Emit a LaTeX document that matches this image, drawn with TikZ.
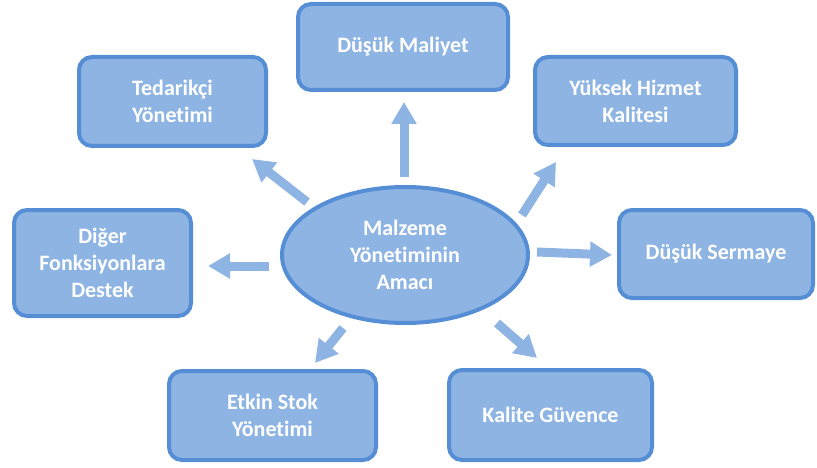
\documentclass[tikz,border=0pt]{standalone}
\usepackage{fontspec}
\setmainfont{Carlito}[Ligatures={NoCommon}]
\usetikzlibrary{arrows.meta,shapes.geometric}
\definecolor{boxfill}{HTML}{8EB4E3}
\definecolor{boxline}{HTML}{558ED5}
\begin{document}
\begin{tikzpicture}[x=1pt,y=-1pt,
  box/.style={draw=boxline, fill=boxfill, line width=4pt, rounded corners=13pt,
    text=white, font=\fontsize{22}{27}\selectfont\bfseries, align=center, inner sep=0pt},
  blockarrow/.style={draw=boxfill, line width=9pt, -{Triangle[width=24pt,length=22pt]}}
]
\useasboundingbox (0,0) rectangle (817,468);
% center ellipse
\node[box, ellipse, rounded corners=0pt, minimum width=246pt, minimum height=136pt] (ell) at (405,255) {Malzeme\\Yönetiminin\\Amacı};
% boxes
\node[box, minimum width=187pt, minimum height=89pt] (ted) at (172.5,101.5) {Tedarikçi\\Yönetimi};
\node[box, minimum width=210pt, minimum height=86pt] (dm) at (403,47) {Düşük Maliyet};
\node[box, minimum width=201pt, minimum height=88pt] (yh) at (635.5,101) {Yüksek Hizmet\\Kalitesi};
\node[box, minimum width=194pt, minimum height=88pt] (ds) at (716,254) {Düşük Sermaye};
\node[box, minimum width=203pt, minimum height=90pt] (kg) at (550.5,415) {Kalite Güvence};
\node[box, minimum width=207pt, minimum height=89pt] (es) at (272.5,415.5) {Etkin Stok\\Yönetimi};
\node[box, minimum width=177pt, minimum height=106pt] (dg) at (102.5,263) {Diğer\\Fonksiyonlara\\Destek};
% arrow end points
\coordinate (a1s) at (404,177); \coordinate (a1e) at (404,102);
\coordinate (a2s) at (307,202); \coordinate (a2e) at (252,159);
\coordinate (a3s) at (269,266); \coordinate (a3e) at (208,266);
\coordinate (a4s) at (522,215); \coordinate (a4e) at (556,162);
\coordinate (a5s) at (537,252); \coordinate (a5e) at (612,255);
\coordinate (a6s) at (497,323); \coordinate (a6e) at (537,358);
\coordinate (a7s) at (343,328); \coordinate (a7e) at (315,363);
\foreach \i in {1,...,7} {\draw[blockarrow] (a\i s) -- (a\i e);}
\end{tikzpicture}
\end{document}
